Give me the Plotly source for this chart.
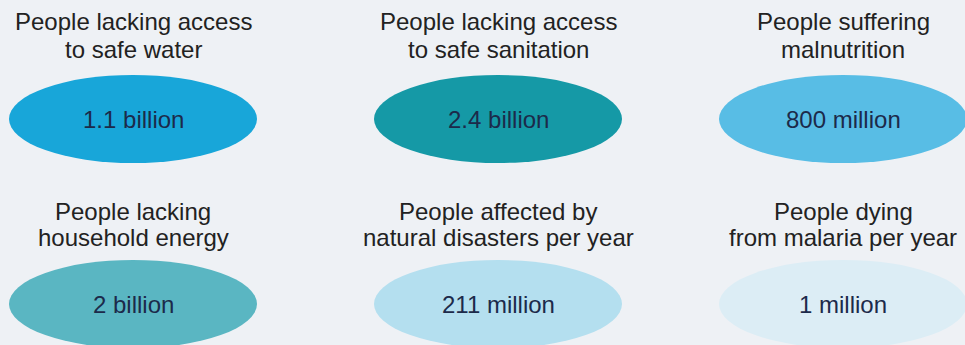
import plotly.graph_objects as go

# ---- data ----
title_line1 = ["People lacking access", "People lacking access", "People suffering",
               "People lacking", "People affected by", "People dying"]
title_line2 = ["to safe water", "to safe sanitation", "malnutrition",
               "household energy", "natural disasters per year", "from malaria per year"]
value_labels = ["1.1 billion", "2.4 billion", "800 million",
                "2 billion", "211 million", "1 million"]
fill_colors = ["#18a6d9", "#1599a6", "#58bde5", "#5ab6c2", "#b4dfef", "#dcedf5"]

# ---- layout constants ----
W, H = 965, 345
col_centers = [133, 498, 843]
row_ell_cy = [119, 304]
row_line1_y = [21, 211]
row_line2_y = [49, 237]
rx, ry = 124, 44
FONT = "Liberation Sans, Arial, sans-serif"

fig = go.Figure()
shapes = []
annotations = []
for i in range(len(value_labels)):
    r, c = divmod(i, 3)
    cx, cy = col_centers[c], row_ell_cy[r]
    shapes.append(dict(type="circle", xref="x", yref="y",
                       x0=cx - rx, x1=cx + rx, y0=cy - ry, y1=cy + ry,
                       fillcolor=fill_colors[i], line=dict(width=0), layer="below"))
    annotations.append(dict(x=cx, y=row_line1_y[r], xref="x", yref="y",
                            text=title_line1[i], showarrow=False,
                            xanchor="center", yanchor="middle",
                            font=dict(family=FONT, size=24, color="#222222")))
    annotations.append(dict(x=cx, y=row_line2_y[r], xref="x", yref="y",
                            text=title_line2[i], showarrow=False,
                            xanchor="center", yanchor="middle",
                            font=dict(family=FONT, size=24, color="#222222")))
    annotations.append(dict(x=cx, y=cy, xref="x", yref="y",
                            text=value_labels[i], showarrow=False,
                            xanchor="center", yanchor="middle",
                            font=dict(family=FONT, size=24, color="#1c2a4a")))

fig.update_layout(
    width=W, height=H,
    margin=dict(l=0, r=0, t=0, b=0),
    paper_bgcolor="#eef1f5", plot_bgcolor="#eef1f5",
    xaxis=dict(range=[0, W], visible=False, fixedrange=True),
    yaxis=dict(range=[H, 0], visible=False, fixedrange=True),
    shapes=shapes, annotations=annotations, showlegend=False,
)
fig.write_html("out.html", config={"displayModeBar": False})
